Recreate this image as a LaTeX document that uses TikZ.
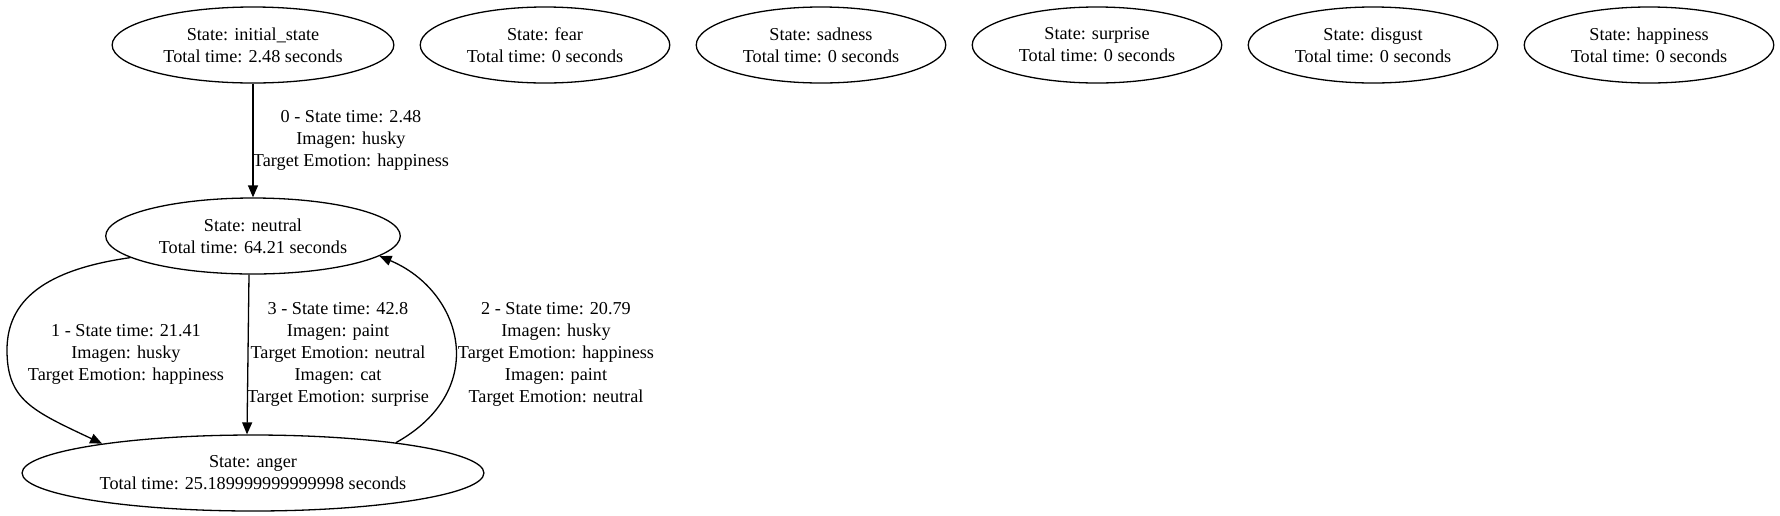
\documentclass[tikz,border=0pt]{standalone}
\usepackage{fontspec}
\setmainfont{Liberation Serif}
\usetikzlibrary{
    arrows.meta,        % For arrow tips
    shapes.geometric    % For ellipse nodes
}

\begin{document}
\begin{tikzpicture}[
    x=0.5pt, y=-0.5pt,
    font=\fontsize{9.1}{11}\selectfont,
    line width=0.65pt,
    arrow/.style={-{Triangle[length=6pt, width=5pt]}},
    statenode/.style={
        draw,
        ellipse,
        align=center,
        inner xsep=5pt,
        inner ysep=3pt,
        minimum height=38pt
    },
    edgelabel/.style={align=center, inner sep=0pt}
]
    \useasboundingbox (0,0) rectangle (1780,515);

    % --- State nodes ---
    \node[statenode] (initial) at (253,45) {State: initial\_state \\ Total time: 2.48 seconds};
    \foreach \name [count=\i] in {fear,sadness,surprise,disgust,happiness} {
        \node[statenode] (\name) at (269+276*\i,45) {State: \name \\ Total time: 0 seconds};
    }
    \node[statenode] (neutral) at (253,236) {State: neutral \\ Total time: 64.21 seconds};
    \node[statenode] (anger) at (253,473) {State: anger \\ Total time: 25.189999999999998 seconds};

    % --- Transitions ---
    \coordinate (bend1) at (7,350); % leftmost point of the 1st transition
    \draw[arrow] (initial) -- (neutral);
    \draw[arrow] (neutral.190) .. controls +(-85,12) and +(0,-50) .. (bend1)
                               .. controls +(0,50) and +(-70,-33) .. (anger.169);
    \draw[arrow] (anger.12) .. controls +(95,-53) and +(83,35) .. (neutral.351);
    \draw[arrow] ([xshift=-2pt]neutral.south) -- ([xshift=-3pt]anger.north);

    % --- Transition labels ---
    \node[edgelabel] (lbl0) at (351,140) {0 - State time: 2.48 \\ Imagen: husky \\ Target Emotion: happiness};
    \node[edgelabel] (lbl1) at (126,354) {1 - State time: 21.41 \\ Imagen: husky \\ Target Emotion: happiness};
    \node[edgelabel] (lbl2) at (556,354) {2 - State time: 20.79 \\ Imagen: husky \\ Target Emotion: happiness \\ Imagen: paint \\ Target Emotion: neutral};
    \node[edgelabel] (lbl3) at (338,354) {3 - State time: 42.8 \\ Imagen: paint \\ Target Emotion: neutral \\ Imagen: cat \\ Target Emotion: surprise};

\end{tikzpicture}
\end{document}
